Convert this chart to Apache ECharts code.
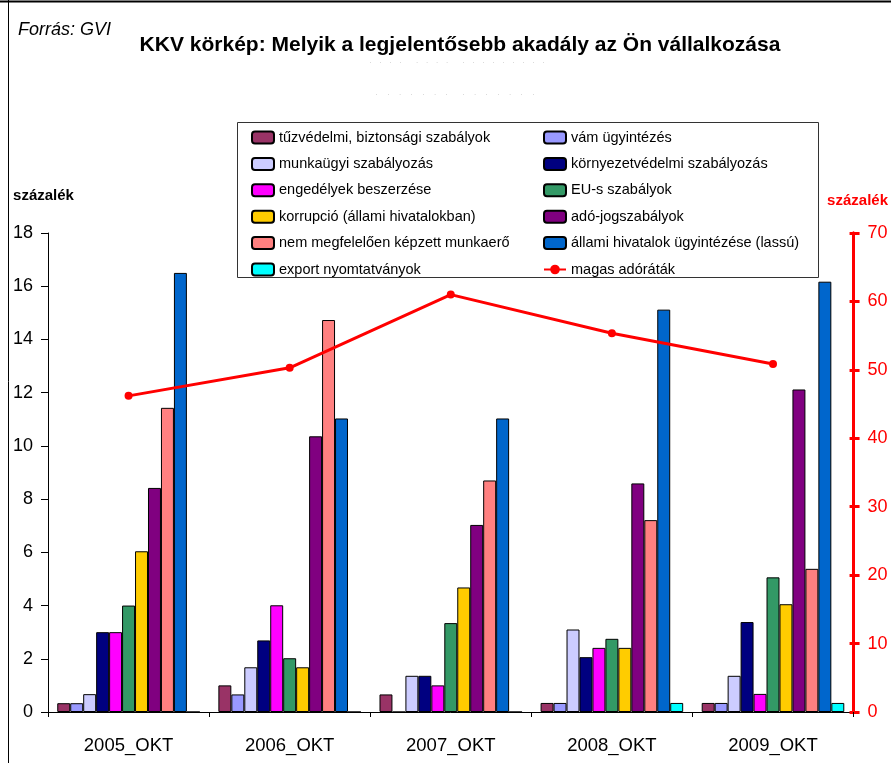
<!DOCTYPE html>
<html>
<head>
<meta charset="utf-8">
<script src="https://cdn.jsdelivr.net/npm/echarts@6/dist/echarts.min.js"></script>
<style>
html,body{margin:0;padding:0;background:#fff;}
#chart{width:891px;height:763px;}
</style>
</head>
<body>
<div id="chart"></div>
<script>
// ---- Data ----
var categories = ['2005_OKT', '2006_OKT', '2007_OKT', '2008_OKT', '2009_OKT'];
var leftTicks = [0, 2, 4, 6, 8, 10, 12, 14, 16, 18];
var rightTicks = [0, 10, 20, 30, 40, 50, 60, 70];

var tuzvedelmi = [0.33, 1.0, 0.66, 0.34, 0.34];
var vam = [0.33, 0.66, 0, 0.34, 0.34];
var munkaugyi = [0.67, 1.68, 1.36, 3.1, 1.36];
var kornyezet = [3.0, 2.69, 1.36, 2.06, 3.38];
var engedelyek = [3.0, 4.01, 1.0, 2.41, 0.68];
var euSzabalyok = [4.0, 2.02, 3.34, 2.75, 5.06];
var korrupcio = [6.04, 1.68, 4.68, 2.41, 4.05];
var adoJog = [8.42, 10.36, 7.03, 8.59, 12.12];
var nemMegfelelo = [11.43, 14.73, 8.70, 7.21, 5.38];
var allamiHivatalok = [16.5, 11.03, 11.03, 15.12, 16.17];
var exportNyomt = [0, 0, 0, 0.34, 0.34];
var magasAdoratak = [46.2, 50.3, 61.0, 55.35, 50.85];

var barSeriesDefs = [
  ['tűzvédelmi, biztonsági szabályok', tuzvedelmi, '#993366'],
  ['vám ügyintézés', vam, '#9999FF'],
  ['munkaügyi szabályozás', munkaugyi, '#CCCCFF'],
  ['környezetvédelmi szabályozás', kornyezet, '#000080'],
  ['engedélyek beszerzése', engedelyek, '#FF00FF'],
  ['EU-s szabályok', euSzabalyok, '#339966'],
  ['korrupció (állami hivatalokban)', korrupcio, '#FFCC00'],
  ['adó-jogszabályok', adoJog, '#800080'],
  ['nem megfelelően képzett munkaerő', nemMegfelelo, '#FF8080'],
  ['állami hivatalok ügyintézése (lassú)', allamiHivatalok, '#0066CC'],
  ['export nyomtatványok', exportNyomt, '#00FFFF']
];
var lineName = 'magas adóráták';

var FONT = '"Liberation Sans", Arial, sans-serif';

var series = barSeriesDefs.map(function (d) {
  return {
    name: d[0], type: 'bar', data: d[1],
    xAxisIndex: 0, yAxisIndex: 0,
    barGap: '0%', barCategoryGap: '11.5%',
    itemStyle: { color: d[2], borderColor: '#000', borderWidth: 1 },
    emphasis: { disabled: true },
    animation: false
  };
});
series.push({
  name: lineName, type: 'line', data: magasAdoratak,
  yAxisIndex: 1, z: 10,
  symbol: 'circle', symbolSize: 8,
  lineStyle: { color: '#FF0000', width: 3 },
  itemStyle: { color: '#FF0000' },
  emphasis: { disabled: true },
  animation: false
});

var names = barSeriesDefs.map(function (d) { return d[0]; }).concat([lineName]);
var col1 = [], col2 = [];
names.forEach(function (n, i) { (i % 2 === 0 ? col1 : col2).push(n); });

var legendCommon = {
  orient: 'vertical', top: 130, itemWidth: 22, itemHeight: 12, itemGap: 11.4,
  textStyle: { fontFamily: FONT, fontSize: 14.5, color: '#000', lineHeight: 14 },
  selectedMode: false, padding: 0
};

var chart = echarts.init(document.getElementById('chart'), null, { renderer: 'canvas' });
chart.setOption({
  backgroundColor: '#fff',
  animation: false,
  textStyle: { fontFamily: FONT },
  grid: { left: 48, right: 35, top: 233, bottom: 51, containLabel: false },
  legend: [
    Object.assign({ left: 251, data: col1 }, legendCommon),
    Object.assign({ left: 543, data: col2 }, legendCommon)
  ],
  xAxis: [{
    type: 'category', data: categories,
    axisLine: { show: true, lineStyle: { color: '#000', width: 1 } },
    axisTick: { show: true, alignWithLabel: false, length: 5, lineStyle: { color: '#000' } },
    axisLabel: { fontFamily: FONT, fontSize: 18.5, color: '#000', margin: 24 },
    splitLine: { show: false }
  }],
  yAxis: [{
    type: 'value', position: 'left', min: 0, max: 18, interval: 2,
    name: 'százalék', nameLocation: 'end', nameGap: 30,
    nameTextStyle: { fontFamily: FONT, fontSize: 15, fontWeight: 'bold', color: '#000', align: 'center', padding: [0, 9, 0, 0] },
    axisLine: { show: true, lineStyle: { color: '#000', width: 1 } },
    axisTick: { show: true, inside: false, length: 7, lineStyle: { color: '#000' } },
    axisLabel: { fontFamily: FONT, fontSize: 18, color: '#000', margin: 15,
      customValues: leftTicks },
    splitLine: { show: false }
  }, {
    type: 'value', position: 'right', min: 0, max: 70, interval: 10,
    name: 'százalék', nameLocation: 'end', nameGap: 25,
    nameTextStyle: { fontFamily: FONT, fontSize: 15, fontWeight: 'bold', color: '#FF0000', align: 'center', padding: [0, 0, 0, 8] },
    axisLine: { show: true, lineStyle: { color: '#FF0000', width: 3 } },
    axisTick: { show: true, inside: false, length: 6, lineStyle: { color: '#FF0000', width: 3 } },
    axisLabel: { fontFamily: FONT, fontSize: 18, color: '#FF0000', margin: 14,
      customValues: rightTicks },
    splitLine: { show: false }
  }, {
    type: 'value', position: 'right', min: 0, max: 70, interval: 10,
    axisLine: { show: true, lineStyle: { color: '#FF0000', width: 3 } },
    axisTick: { show: true, inside: true, length: 4, lineStyle: { color: '#FF0000', width: 3 } },
    axisLabel: { show: false },
    splitLine: { show: false }
  }],
  graphic: [
    { type: 'line', shape: { x1: 0, y1: 1.5, x2: 891, y2: 1.5 }, style: { stroke: '#000', lineWidth: 2 }, silent: true },
    { type: 'line', shape: { x1: 8.5, y1: 0, x2: 8.5, y2: 763 }, style: { stroke: '#000', lineWidth: 1 }, silent: true },
    { type: 'text', left: 18, top: 21, style: { text: 'Forrás: GVI', font: 'italic 18px ' + FONT, fill: '#000' }, silent: true },
    { type: 'text', x: 460, y: 35, style: { text: 'KKV körkép: Melyik a legjelentősebb akadály az Ön vállalkozása', font: 'bold 21px ' + FONT, fill: '#000', textAlign: 'center' }, silent: true },
    { type: 'text', x: 457, y: 58, style: { text: '.     .     .     .         .     .     .     .         .     .     .     .     .     .     .     .     .', font: '6px ' + FONT, fill: '#888', textAlign: 'center' }, silent: true },
    { type: 'text', x: 455, y: 90, style: { text: '.      .      .      .      .      .      .         .      .      .      .      .      .      .', font: '6px ' + FONT, fill: '#888', textAlign: 'center' }, silent: true },
    { type: 'rect', shape: { x: 237.5, y: 122.5, width: 581, height: 155 }, style: { fill: 'none', stroke: '#333', lineWidth: 1 }, silent: true, z: -1 }
  ],
  series: series
});
</script>
</body>
</html>
